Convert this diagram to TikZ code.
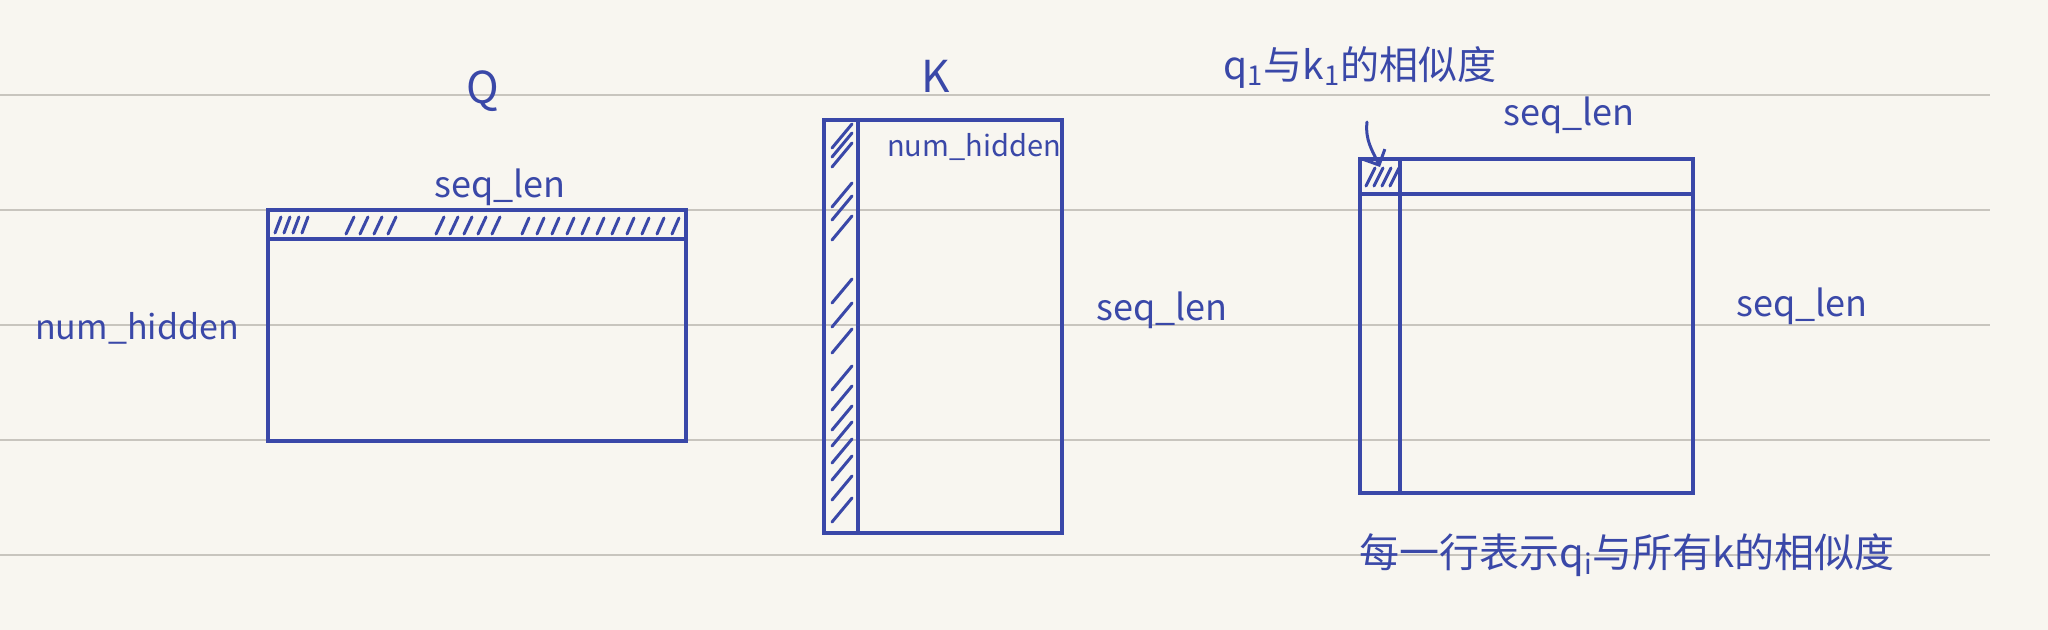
\documentclass[tikz,border=0pt]{standalone}
\usepackage{fontspec}
\setmainfont{Noto Sans CJK SC}
\usetikzlibrary{arrows.meta}
\definecolor{ink}{RGB}{58,72,168}
\definecolor{paper}{RGB}{248,246,240}
\definecolor{ruleline}{RGB}{200,197,190}
\begin{document}
\begin{tikzpicture}[x=0.5pt,y=-0.5pt,
  box/.style={draw=ink, line width=2pt},
  hatch/.style={draw=ink, line width=1.5pt, line cap=round},
  lbl/.style={text=ink, inner sep=0pt, font=\fontsize{18}{20}\selectfont},
  big/.style={text=ink, inner sep=0pt, font=\fontsize{22}{24}\selectfont},
  note/.style={text=ink, inner sep=0pt, font=\fontsize{20}{22}\selectfont}]
\useasboundingbox (0,0) rectangle (2048,630);
\fill[paper] (0,0) rectangle (2048,630);
\foreach \yy in {95,210,325,440,555} \draw[ruleline, line width=1pt] (0,\yy) -- (1990,\yy);

% Q matrix
\draw[box] (268,210) rectangle (686,441);
\draw[box] (268,239) -- (686,239);
\foreach \xx in {275,284,293,302} \draw[hatch] (\xx,233) -- (\xx+6,217);
\foreach \xx in {346,360,374,388} \draw[hatch] (\xx,234) -- (\xx+8,217);
\foreach \xx in {436,450,464,478,492} \draw[hatch] (\xx,234) -- (\xx+8,217);
\foreach \xx in {522,537,552,567,582,597,612,627,642,657,672} \draw[hatch] (\xx,234) -- (\xx+7,218);

% K matrix
\draw[box] (824,120) rectangle (1062,533);
\draw[box] (858,120) -- (858,533);
\foreach \yy in {148,157,167,207,220,240,303,327,353,390,410,430,446,463,480,500,522} \draw[hatch] (832,\yy) -- (852,\yy-24);

% similarity matrix
\draw[box] (1360,159) rectangle (1693,493);
\draw[box] (1360,194) -- (1693,194);
\draw[box] (1400,159) -- (1400,493);
\coordinate (cell) at (1380,159);
\foreach \xx in {1366,1374,1382,1390} \draw[hatch] (\xx,186) -- (\xx+9,168);

% labels
\node[big] (qname) at (483,91) {Q};
\node[big] (kname) at (936,76) {K};
\node[lbl] (qseq) at (500,187) {seq\_len};
\node[lbl, font=\fontsize{17}{20}\selectfont] (qhid) at (137,328) {num\_hidden};
\node[lbl, font=\fontsize{14.5}{17}\selectfont] (khid) at (974,147) {num\_hidden};
\node[lbl] (kseq) at (1162,310) {seq\_len};
\node[lbl] (rseqtop) at (1569,115) {seq\_len};
\node[lbl] (rseqright) at (1802,306) {seq\_len};
\node[note, font=\fontsize{19.5}{22}\selectfont] (simlab) at (1360,67) {q\textsubscript{1}与k\textsubscript{1}的相似度};
\node[note] (rownote) at (1627,555) {每一行表示q\textsubscript{i}与所有k的相似度};

\coordinate (arrstart) at (1367,122);
\draw[ink, line width=1.5pt, line cap=round, -{Straight Barb[length=6pt]}] (arrstart) .. controls (1365,140) and (1372,150) .. ([yshift=-4]cell);
\end{tikzpicture}
\end{document}
